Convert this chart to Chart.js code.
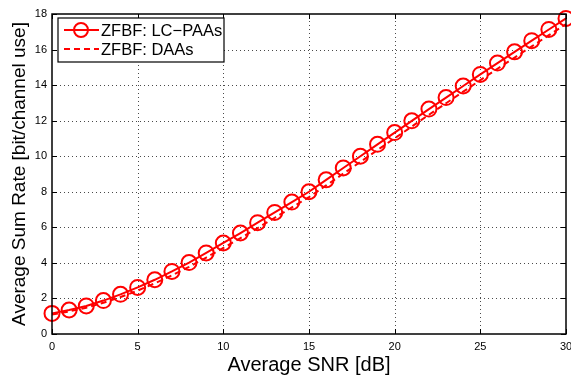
<!DOCTYPE html>
<html>
<head>
<meta charset="utf-8">
<script src="https://cdn.jsdelivr.net/npm/chart.js@4.4.1/dist/chart.umd.min.js"></script>
<style>
  html, body { margin: 0; padding: 0; background: #fff; }
  #wrap { width: 571px; height: 377px; }
</style>
</head>
<body>
<div id="wrap"><canvas id="sumRate" width="571" height="377"></canvas></div>
<script>
// data
var snrDb = [0, 1, 2, 3, 4, 5, 6, 7, 8, 9, 10, 11, 12, 13, 14, 15, 16, 17, 18, 19, 20, 21, 22, 23, 24, 25, 26, 27, 28, 29, 30];
var lcPaas = [1.16, 1.35, 1.58, 1.88, 2.23, 2.62, 3.05, 3.52, 4.02, 4.56, 5.12, 5.68, 6.26, 6.84, 7.42, 8.0, 8.67, 9.34, 10.0, 10.67, 11.33, 11.99, 12.65, 13.3, 13.95, 14.6, 15.24, 15.87, 16.5, 17.13, 17.75];
var daas = [1.1, 1.27, 1.48, 1.76, 2.08, 2.44, 2.85, 3.3, 3.78, 4.3, 4.84, 5.39, 5.96, 6.54, 7.12, 7.7, 8.36, 9.02, 9.68, 10.35, 11.01, 11.67, 12.33, 12.98, 13.63, 14.28, 14.92, 15.55, 16.18, 16.81, 17.43];
var seriesNames = ['ZFBF: LC\u2212PAAs', 'ZFBF: DAAs'];
var xTicks = [0, 5, 10, 15, 20, 25, 30];
var yTicks = [0, 2, 4, 6, 8, 10, 12, 14, 16, 18];

var FONT = '"Liberation Sans", Arial, Helvetica, sans-serif';

function toPoints(xs, ys) {
    return xs.map(function(x, i) { return { x: x, y: ys[i] }; });
}

// matlab style: dotted grid, box with inward ticks, legend box in the corner
var matlabFrame = {
    id: 'matlabFrame',
    beforeDatasetsDraw: function(chart) {
        var ctx = chart.ctx;
        var a = chart.chartArea;
        var xs = chart.scales.x, ys = chart.scales.y;
        ctx.save();
        ctx.strokeStyle = '#4a4a4a';
        ctx.lineWidth = 1;
        ctx.setLineDash([1, 3]);
        xTicks.forEach(function(t) {
            if (t === 0 || t === 30) return;
            var px = Math.round(xs.getPixelForValue(t)) + 0.5;
            ctx.beginPath();
            ctx.moveTo(px, a.bottom); ctx.lineTo(px, a.top);
            ctx.stroke();
        });
        yTicks.forEach(function(t) {
            if (t === 0 || t === 18) return;
            var py = Math.round(ys.getPixelForValue(t)) + 0.5;
            ctx.beginPath();
            ctx.moveTo(a.left, py); ctx.lineTo(a.right, py);
            ctx.stroke();
        });
        ctx.restore();
    },
    afterDatasetsDraw: function(chart) {
        var ctx = chart.ctx;
        var a = chart.chartArea;
        var xs = chart.scales.x, ys = chart.scales.y;
        ctx.save();
        ctx.strokeStyle = '#000';
        ctx.lineWidth = 1;
        xTicks.forEach(function(t) {
            var px = Math.round(xs.getPixelForValue(t)) + 0.5;
            ctx.beginPath();
            ctx.moveTo(px, a.bottom); ctx.lineTo(px, a.bottom - 5);
            ctx.moveTo(px, a.top); ctx.lineTo(px, a.top + 5);
            ctx.stroke();
        });
        yTicks.forEach(function(t) {
            var py = Math.round(ys.getPixelForValue(t)) + 0.5;
            ctx.beginPath();
            ctx.moveTo(a.left, py); ctx.lineTo(a.left + 5, py);
            ctx.moveTo(a.right, py); ctx.lineTo(a.right - 5, py);
            ctx.stroke();
        });
        ctx.lineWidth = 1.5;
        ctx.strokeRect(a.left, a.top, a.right - a.left, a.bottom - a.top);
        ctx.restore();
    },
    afterDraw: function(chart) {
        var ctx = chart.ctx;
        var a = chart.chartArea;
        var bx = a.left + 6, by = a.top + 4, bw = 166, bh = 44;
        ctx.save();
        ctx.fillStyle = '#fff';
        ctx.fillRect(bx, by, bw, bh);
        ctx.strokeStyle = '#000';
        ctx.lineWidth = 1.2;
        ctx.strokeRect(bx, by, bw, bh);

        ctx.strokeStyle = '#ff0000';
        ctx.lineWidth = 2;
        var y1 = by + 12;
        ctx.beginPath();
        ctx.moveTo(bx + 6, y1); ctx.lineTo(bx + 41, y1);
        ctx.stroke();
        ctx.beginPath();
        ctx.arc(bx + 23, y1, 7, 0, Math.PI * 2);
        ctx.stroke();
        var y2 = by + 31;
        ctx.setLineDash([6, 4]);
        ctx.beginPath();
        ctx.moveTo(bx + 6, y2); ctx.lineTo(bx + 41, y2);
        ctx.stroke();
        ctx.setLineDash([]);

        ctx.fillStyle = '#000';
        ctx.font = '16.5px ' + FONT;
        ctx.textBaseline = 'middle';
        ctx.textAlign = 'left';
        ctx.fillText(seriesNames[0], bx + 43, y1 + 1);
        ctx.fillText(seriesNames[1], bx + 43, y2 + 1);
        ctx.restore();
    }
};

document.addEventListener('DOMContentLoaded', function() {
    var ctx = document.getElementById('sumRate').getContext('2d');
    var sumRateChart = new Chart(ctx, {
        type: 'line',
        data: {
            datasets: [{
                label: seriesNames[1],
                data: toPoints(snrDb, daas),
                borderColor: '#ff0000',
                borderWidth: 2,
                borderDash: [6, 4],
                pointRadius: 0,
                tension: 0,
                fill: false,
                clip: false
            }, {
                label: seriesNames[0],
                data: toPoints(snrDb, lcPaas),
                borderColor: '#ff0000',
                borderWidth: 2,
                pointStyle: 'circle',
                pointRadius: 7.5,
                pointBorderWidth: 2,
                pointBorderColor: '#ff0000',
                pointBackgroundColor: 'rgba(0,0,0,0)',
                tension: 0,
                fill: false,
                clip: false
            }]
        },
        options: {
            responsive: false,
            animation: false,
            layout: { autoPadding: false, padding: { top: 14, right: 5, left: 0, bottom: 0 } },
            plugins: {
                legend: { display: false },
                tooltip: { enabled: false }
            },
            scales: {
                x: {
                    type: 'linear',
                    min: 0,
                    max: 30,
                    afterFit: function(scale) {
                        scale.height = 43;
                        scale.paddingLeft = 0;
                        scale.paddingRight = 0;
                    },
                    afterBuildTicks: function(scale) {
                        scale.ticks = xTicks.map(function(v) { return { value: v }; });
                    },
                    grid: { display: false, drawTicks: false },
                    border: { display: false },
                    ticks: {
                        color: '#000',
                        padding: 6,
                        maxRotation: 0,
                        font: { family: FONT, size: 11 }
                    },
                    title: {
                        display: true,
                        text: 'Average SNR [dB]',
                        color: '#000',
                        padding: { top: 0, bottom: 0 },
                        font: { family: FONT, size: 20 }
                    }
                },
                y: {
                    min: 0,
                    max: 18,
                    afterFit: function(scale) {
                        scale.width = 52;
                        scale.paddingTop = 0;
                        scale.paddingBottom = 0;
                    },
                    afterBuildTicks: function(scale) {
                        scale.ticks = yTicks.map(function(v) { return { value: v }; });
                    },
                    grid: { display: false, drawTicks: false },
                    border: { display: false },
                    ticks: {
                        color: '#000',
                        padding: 5,
                        font: { family: FONT, size: 11 }
                    },
                    title: {
                        display: true,
                        text: 'Average Sum Rate [bit/channel use]',
                        color: '#000',
                        padding: { top: 8, bottom: 0 },
                        font: { family: FONT, size: 19 }
                    }
                }
            }
        },
        plugins: [matlabFrame]
    });
});
</script>
</body>
</html>
